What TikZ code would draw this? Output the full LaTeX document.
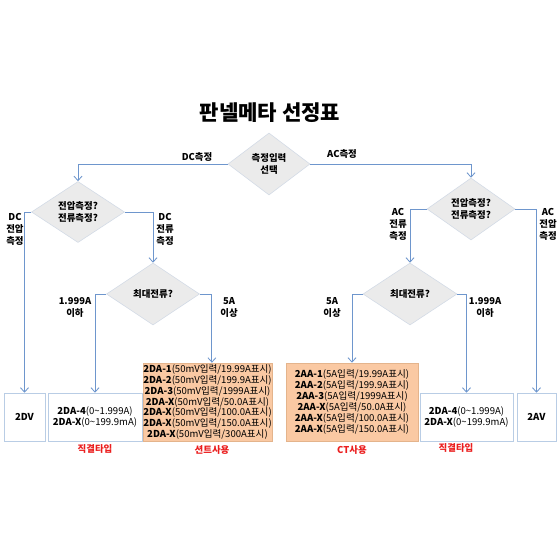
\documentclass[tikz,border=0pt]{standalone}
\usepackage{fontspec}
\setmainfont{Noto Sans CJK KR}
\usepackage{tikz}
\usetikzlibrary{arrows.meta,shapes.geometric}
\definecolor{flowline}{RGB}{110,150,205}
\definecolor{diafill}{RGB}{235,235,235}
\definecolor{diaedge}{RGB}{210,218,230}
\definecolor{boxedge}{RGB}{185,205,229}
\definecolor{peach}{RGB}{250,201,163}
\definecolor{peachedge}{RGB}{228,180,140}
\definecolor{notered}{RGB}{235,30,30}
\newcommand{\mdl}[2]{\textbf{#1}(#2)}
\newcommand{\tl}{\textasciitilde}

\begin{document}
\begin{tikzpicture}[x=0.025cm,y=-0.025cm,>={Straight Barb[length=1.1mm,width=2mm]},
   font=\fontsize{6.7}{8.5}\selectfont\bfseries,
   dia/.style={diamond,draw=diaedge,fill=diafill,inner sep=0pt,aspect=1.5,align=center},
   bx/.style={draw=boxedge,fill=white,inner sep=0pt,align=center,
     font=\fontsize{6.8}{7.8}\selectfont},
   lbl/.style={align=center},
   tag/.style={text=notered},
   flow/.style={draw=flowline,line width=0.6pt}]
  \useasboundingbox[fill=white] (0,0) rectangle (560,560);
  \node[font=\fontsize{15}{18}\selectfont\bfseries] (title) at (270,113) {판넬메타 선정표};
  % decisions
  \node[dia,minimum width=82*0.025cm,minimum height=62*0.025cm] (sel) at (269,164) {측정입력\\선택};
  \node[dia,minimum width=93*0.025cm,minimum height=61*0.025cm] (dcq) at (78,212) {전압측정?\\전류측정?};
  \node[dia,minimum width=88*0.025cm,minimum height=62*0.025cm] (acq) at (471,209) {전압측정?\\전류측정?};
  \node[dia,minimum width=93*0.025cm,minimum height=62*0.025cm] (dcmax) at (153,294) {최대전류?};
  \node[dia,minimum width=94*0.025cm,minimum height=62*0.025cm] (acmax) at (410,294) {최대전류?};
  % results
  \node[bx,minimum width=41*0.025cm,minimum height=48*0.025cm] (dv) at (24.5,417) {\textbf{2DV}};
  \node[bx,minimum width=94*0.025cm,minimum height=48*0.025cm] (dadc) at (95,417)
    {\mdl{2DA-4}{0\tl1.999A}\\\mdl{2DA-X}{0\tl199.9mA}};
  \node[bx,draw=peachedge,fill=peach,minimum width=129*0.025cm,minimum height=78*0.025cm] (shunt) at (207.5,402)
    {\mdl{2DA-1}{50mV입력/19.99A표시}\\\mdl{2DA-2}{50mV입력/199.9A표시}\\
     \mdl{2DA-3}{50mV입력/1999A표시}\\\mdl{2DA-X}{50mV입력/50.0A표시}\\
     \mdl{2DA-X}{50mV입력/100.0A표시}\\\mdl{2DA-X}{50mV입력/150.0A표시}\\
     \mdl{2DA-X}{50mV입력/300A표시}};
  \node[bx,draw=peachedge,fill=peach,minimum width=132*0.025cm,minimum height=78*0.025cm] (ct) at (352,402)
    {\mdl{2AA-1}{5A입력/19.99A표시}\\\mdl{2AA-2}{5A입력/199.9A표시}\\
     \mdl{2AA-3}{5A입력/1999A표시}\\\mdl{2AA-X}{5A입력/50.0A표시}\\
     \mdl{2AA-X}{5A입력/100.0A표시}\\\mdl{2AA-X}{5A입력/150.0A표시}};
  \node[bx,minimum width=93*0.025cm,minimum height=48*0.025cm] (daac) at (466.5,417)
    {\mdl{2DA-4}{0\tl1.999A}\\\mdl{2DA-X}{0\tl199.9mA}};
  \node[bx,minimum width=39*0.025cm,minimum height=48*0.025cm] (av) at (536.5,417) {\textbf{2AV}};
  % connectors
  \draw[flow,->] (sel.west) -| (dcq.north);
  \draw[flow,->] (sel.east) -| (acq.north);
  \draw[flow,->] (dcq.west) -| (dv.north);
  \draw[flow,->] (dcq.east) -| (dcmax.north);
  \draw[flow,->] (dcmax.west) -| (dadc.north);
  \draw[flow,->] (dcmax.east) -| ([xshift=1.1mm]shunt.north);
  \draw[flow,->] (acq.west) -| (acmax.north);
  \draw[flow,->] (acq.east) -| (av.north);
  \draw[flow,->] (acmax.west) -| (ct.north);
  \draw[flow,->] (acmax.east) -| (daac.north);
  % branch labels
  \node[lbl] (ldc) at (197,157) {DC측정};
  \node[lbl] (lac) at (342,154) {AC측정};
  \node[lbl] (ldcv) at (15,229) {DC\\전압\\측정};
  \node[lbl] (ldci) at (165,229) {DC\\전류\\측정};
  \node[lbl] (ldclo) at (75,307) {1.999A\\이하};
  \node[lbl] (ldchi) at (229,307) {5A\\이상};
  \node[lbl] (laci) at (398,224) {AC\\전류\\측정};
  \node[lbl] (lacv) at (548,224) {AC\\전압\\측정};
  \node[lbl] (lachi) at (332,307) {5A\\이상};
  \node[lbl] (laclo) at (485,307) {1.999A\\이하};
  \node[tag] (tdcd) at (95,449) {직결타입};
  \node[tag] (tsh) at (212,450) {션트사용};
  \node[tag] (tct) at (352,450) {CT사용};
  \node[tag] (tacd) at (456,448) {직결타입};
\end{tikzpicture}
\end{document}
